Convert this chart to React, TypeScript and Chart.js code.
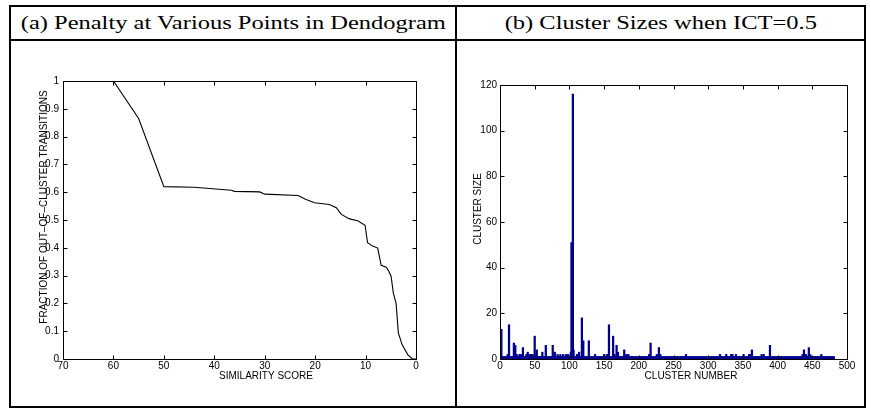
import React, { useEffect, useRef } from "react";
import { Chart, registerables } from "chart.js";
Chart.register(...registerables);

// ---- Panel (a): penalty vs similarity score ----
const penaltyScores = [60, 55, 50, 44, 36.6, 36, 31, 30, 23.4, 21.8, 20.1, 17.2, 15.8, 14.8, 13.2, 11.55, 10.1, 9.6, 8.6, 7.6, 6.9, 5.9, 5.4, 4.94, 4.5, 3.95, 3.5, 2.76, 1.64, 0.78, 0];
const penaltyFractions = [1.0, 0.865, 0.62, 0.618, 0.607, 0.603, 0.601, 0.593, 0.588, 0.574, 0.562, 0.556, 0.544, 0.52, 0.504, 0.497, 0.481, 0.418, 0.406, 0.399, 0.337, 0.33, 0.316, 0.298, 0.238, 0.2, 0.094, 0.052, 0.016, 0.001, 0];

// ---- Panel (b): cluster sizes ----
const clusterCount = 481;
const baseClusterSize = 1;
const spikeClusters = [1, 2, 11, 13, 20, 22, 24, 28, 30, 33, 38, 40, 43, 45, 47, 50, 53, 61, 66, 76, 79, 83, 87, 91, 95, 98, 102, 103, 105, 106, 111, 114, 118, 120, 128, 137, 150, 154, 157, 163, 165, 168, 170, 179, 182, 185, 215, 217, 226, 229, 231, 268, 317, 326, 333, 335, 340, 351, 359, 361, 363, 377, 380, 389, 436, 438, 441, 445, 447, 463];
const spikeSizes = [4, 13, 2, 15, 7, 6, 2, 2, 2, 5, 2, 3, 2, 2, 2, 10, 4, 3, 6, 6, 3, 2, 2, 2, 2, 2, 3, 51, 116, 4, 2, 3, 18, 8, 8, 2, 2, 2, 15, 10, 2, 6, 3, 4, 2, 2, 2, 7, 2, 5, 2, 2, 2, 2, 2, 2, 2, 2, 2, 2, 4, 2, 2, 6, 2, 4, 2, 5, 2, 2];

const headerA = "(a) Penalty at Various Points in Dendogram";
const headerB = "(b) Cluster Sizes when ICT=0.5";
const leftXTicks = [70, 60, 50, 40, 30, 20, 10, 0];
const leftYTicks = [0, 0.1, 0.2, 0.3, 0.4, 0.5, 0.6, 0.7, 0.8, 0.9, 1];
const rightXTicks = [0, 50, 100, 150, 200, 250, 300, 350, 400, 450, 500];
const rightYTicks = [0, 20, 40, 60, 80, 100, 120];

const SANS = "'Liberation Sans', Arial, Helvetica, sans-serif";
const tickFont = { family: SANS, size: 10 };

const matlabAxes = {
  id: "matlabAxes",
  afterDraw(chart: any, _args: any, opts: any) {
    const { ctx, chartArea: a, scales } = chart;
    const L = Math.round(a.left) + 0.5;
    const R = Math.round(a.right) + 0.5;
    const T = Math.round(a.top) + 0.5;
    const B = Math.round(a.bottom) + 0.5;
    const tl = 4;
    ctx.save();
    ctx.strokeStyle = "#000";
    ctx.lineWidth = 1;
    ctx.beginPath();
    ctx.rect(L, T, R - L, B - T);
    scales.x.ticks.forEach((t: any) => {
      const px = Math.round(scales.x.getPixelForValue(t.value)) + 0.5;
      ctx.moveTo(px, B);
      ctx.lineTo(px, B - tl);
      ctx.moveTo(px, T);
      ctx.lineTo(px, T + tl);
    });
    scales.y.ticks.forEach((t: any) => {
      const py = Math.round(scales.y.getPixelForValue(t.value)) + 0.5;
      ctx.moveTo(L, py);
      ctx.lineTo(L + tl, py);
      ctx.moveTo(R, py);
      ctx.lineTo(R - tl, py);
    });
    ctx.stroke();
    ctx.fillStyle = "#000";
    ctx.font = `10px ${SANS}`;
    ctx.textAlign = "center";
    ctx.textBaseline = "alphabetic";
    ctx.fillText(opts.xTitle, opts.xTitleX, opts.xTitleBaseline);
    ctx.translate(opts.yTitleBaseline, opts.yTitleY);
    ctx.rotate(-Math.PI / 2);
    ctx.fillText(opts.yTitle, 0, 0);
    ctx.restore();
  },
};

function PenaltyChart() {
  const ref = useRef<HTMLCanvasElement>(null);
  useEffect(() => {
    const data = penaltyScores.map((s, i) => ({ x: s, y: penaltyFractions[i] }));
    const chart = new Chart(ref.current!, {
      type: "line",
      data: {
        datasets: [
          {
            data,
            borderColor: "#000",
            borderWidth: 1.1,
            pointRadius: 0,
            tension: 0,
            fill: false,
          },
        ],
      },
      options: {
        animation: false,
        responsive: false,
        maintainAspectRatio: false,
        devicePixelRatio: 1,
        layout: { padding: { left: 0, right: 39, top: 40, bottom: 0 } },
        plugins: {
          legend: { display: false },
          tooltip: { enabled: false },
          matlabAxes: {
            xTitle: "SIMILARITY SCORE",
            xTitleX: 255,
            xTitleBaseline: 338,
            yTitle: "FRACTION OF OUT\u2013OF\u2013CLUSTER TRANSITIONS",
            yTitleBaseline: 36,
            yTitleY: 166,
          },
        } as any,
        scales: {
          x: {
            type: "linear",
            reverse: true,
            min: 0,
            max: 70,
            afterFit: (s: any) => {
              s.height = 47;
            },
            afterBuildTicks: (s: any) => {
              s.ticks = leftXTicks.map((v) => ({ value: v }));
            },
            ticks: { padding: 1, color: "#000", font: tickFont, maxRotation: 0, autoSkip: false },
            grid: { display: false, drawTicks: false },
            border: { display: false },
          },
          y: {
            type: "linear",
            min: 0,
            max: 1,
            afterFit: (s: any) => {
              s.width = 52;
            },
            afterBuildTicks: (s: any) => {
              s.ticks = leftYTicks.map((v) => ({ value: v }));
            },
            ticks: {
              padding: 4,
              color: "#000",
              font: tickFont,
              autoSkip: false,
              callback: (v: any) => String(Math.round(Number(v) * 10) / 10),
            },
            grid: { display: false, drawTicks: false },
            border: { display: false },
          },
        },
      },
      plugins: [matlabAxes as any],
    });
    return () => chart.destroy();
  }, []);
  return <canvas ref={ref} width={444} height={365} style={{ display: "block", width: 444, height: 365 }} />;
}

function ClusterChart() {
  const ref = useRef<HTMLCanvasElement>(null);
  useEffect(() => {
    const data: { x: number; y: number }[] = [];
    for (let c = 1; c <= clusterCount; c++) {
      const k = spikeClusters.indexOf(c);
      data.push({ x: c, y: k >= 0 ? spikeSizes[k] : baseClusterSize });
    }
    const chart = new Chart(ref.current!, {
      type: "bar",
      data: {
        datasets: [
          {
            data,
            backgroundColor: "#00008F",
            borderWidth: 0,
            barThickness: 1.6,
          } as any,
        ],
      },
      options: {
        animation: false,
        responsive: false,
        maintainAspectRatio: false,
        devicePixelRatio: 1,
        layout: { padding: { left: 0, right: 17, top: 44, bottom: 0 } },
        plugins: {
          legend: { display: false },
          tooltip: { enabled: false },
          matlabAxes: {
            xTitle: "CLUSTER NUMBER",
            xTitleX: 234,
            xTitleBaseline: 338,
            yTitle: "CLUSTER SIZE",
            yTitleBaseline: 24,
            yTitleY: 168,
          },
        } as any,
        scales: {
          x: {
            type: "linear",
            min: 0,
            max: 500,
            offset: false,
            afterFit: (s: any) => {
              s.height = 47;
            },
            afterBuildTicks: (s: any) => {
              s.ticks = rightXTicks.map((v) => ({ value: v }));
            },
            ticks: { padding: 1, color: "#000", font: tickFont, maxRotation: 0, autoSkip: false },
            grid: { display: false, drawTicks: false, offset: false },
            border: { display: false },
          },
          y: {
            type: "linear",
            min: 0,
            max: 120,
            afterFit: (s: any) => {
              s.width = 43;
            },
            afterBuildTicks: (s: any) => {
              s.ticks = rightYTicks.map((v) => ({ value: v }));
            },
            ticks: { padding: 3, color: "#000", font: tickFont, autoSkip: false },
            grid: { display: false, drawTicks: false },
            border: { display: false },
          },
        },
      },
      plugins: [matlabAxes as any],
    });
    return () => chart.destroy();
  }, []);
  return <canvas ref={ref} width={407} height={365} style={{ display: "block", width: 407, height: 365 }} />;
}

const headerText: React.CSSProperties = {
  display: "inline-block",
  whiteSpace: "nowrap",
  fontFamily: "'Liberation Serif', 'Times New Roman', Times, serif",
  fontSize: 18,
  lineHeight: "20px",
  color: "#000",
  transform: "scaleX(1.36)",
  transformOrigin: "center",
};

export default function App() {
  return (
    <div style={{ position: "absolute", left: 0, top: 0, width: 871, height: 409, background: "#fff", overflow: "hidden" }}>
      <div style={{ position: "absolute", left: 9, top: 5, width: 857, height: 403, border: "2px solid #000", boxSizing: "border-box" }} />
      <div style={{ position: "absolute", left: 9, top: 39, width: 857, height: 2, background: "#000" }} />
      <div style={{ position: "absolute", left: 455, top: 5, width: 2, height: 403, background: "#000" }} />
      <div style={{ position: "absolute", left: 11, top: 7, width: 444, height: 32, display: "flex", alignItems: "center", justifyContent: "center" }}>
        <span style={headerText}>{headerA}</span>
      </div>
      <div style={{ position: "absolute", left: 457, top: 7, width: 407, height: 32, display: "flex", alignItems: "center", justifyContent: "center" }}>
        <span style={headerText}>{headerB}</span>
      </div>
      <div style={{ position: "absolute", left: 11, top: 41 }}>
        <PenaltyChart />
      </div>
      <div style={{ position: "absolute", left: 457, top: 41 }}>
        <ClusterChart />
      </div>
    </div>
  );
}
